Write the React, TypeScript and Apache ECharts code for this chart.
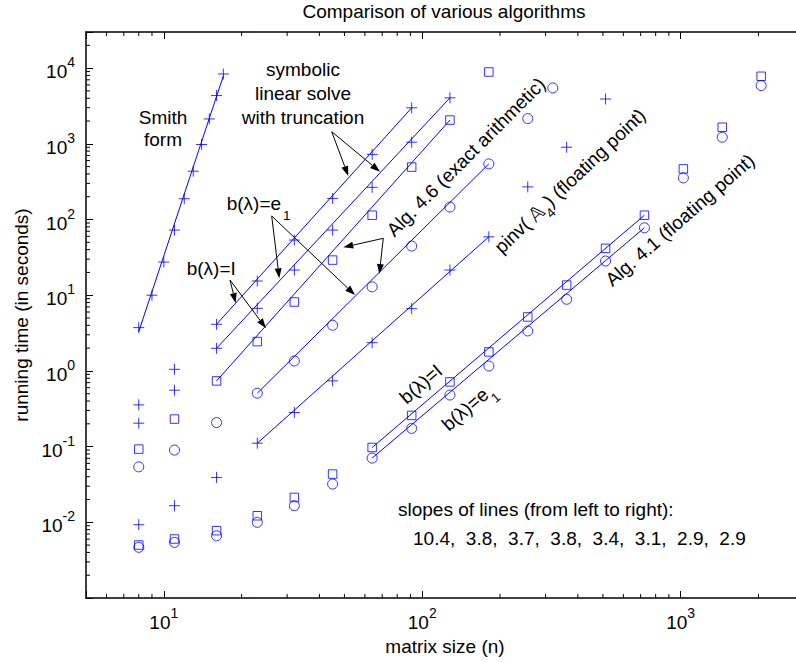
import React, { useEffect, useRef } from 'react';
import * as echarts from 'echarts';

// ---------------- data ----------------
const sizes = [8, 11, 16, 23, 32, 45, 64, 91, 128, 181, 256, 362, 512, 724, 1024, 1448, 2048];

const smithSizes = [8, 9, 10, 11, 12, 13, 14, 15, 16, 17];
const smithTime = [3.73, 10.0, 27.4, 72.5, 188, 435, 979, 2130, 4340, 8360];

// symbolic linear solve with truncation (sizes 8..91 and 8..128)
const symbolicITime = [0.356, 1.05, 4.13, 15.4, 53.5, 190, 725, 2990];
const symbolicE1Time = [0.204, 0.556, 1.99, 6.71, 21.5, 72.5, 266, 1050, 4050];

// Alg. 4.6 (exact arithmetic)
const alg46ITime = [0.0927, 0.231, 0.738, 2.44, 8.13, 29.1, 114, 493, 2060, 8890];
const alg46E1Sizes = [8, 11, 16, 23, 32, 45, 64, 91, 128, 181, 256, 320];
const alg46E1Time = [0.054, 0.0899, 0.208, 0.508, 1.355, 4.01, 12.9, 44.6, 146, 543, 2157, 5470];

// pinv(A4) (floating point)
const pinvTime = [0.0093, 0.01656, 0.0391, 0.111, 0.282, 0.738, 2.36, 6.64, 21.5, 59.1, 270, 902, 3910];

// Alg. 4.1 (floating point)
const alg41ITime = [0.00501, 0.00602, 0.00775, 0.0122, 0.0213, 0.0434, 0.0973, 0.258, 0.716, 1.78, 5.16, 13.6, 41.6, 114, 466, 1656, 7800];
const alg41E1Time = [0.00467, 0.00543, 0.00665, 0.00998, 0.0166, 0.032, 0.0705, 0.174, 0.48, 1.16, 3.37, 8.83, 28.3, 77.8, 355, 1222, 5880];

// fitted lines: [start size, end size] and [start time, end time]
const fitLineSizes = [[8, 17], [16, 91], [16, 128], [16, 128], [23, 181], [23, 181], [64, 724], [64, 724]];
const fitLineTimes = [[3.3, 7900], [4.13, 2990], [1.99, 4050], [0.738, 2060], [0.508, 543], [0.111, 59.1], [0.0973, 114], [0.0705, 77.8]];

const slopes = [10.4, 3.8, 3.7, 3.8, 3.4, 3.1, 2.9, 2.9];

// axes
const xMin = 5, xMax = 3000, yMin = 0.001, yMax = 30000;
const xTickExps = [1, 2, 3];
const yTickExps = [-2, -1, 0, 1, 2, 3, 4];
const xMinorTicks = [6, 7, 8, 9, 20, 30, 40, 50, 60, 70, 80, 90, 200, 300, 400, 500, 600, 700, 800, 900, 2000];
const yMinorTicks = [
  0.002, 0.003, 0.004, 0.005, 0.006, 0.007, 0.008, 0.009,
  0.02, 0.03, 0.04, 0.05, 0.06, 0.07, 0.08, 0.09,
  0.2, 0.3, 0.4, 0.5, 0.6, 0.7, 0.8, 0.9,
  2, 3, 4, 5, 6, 7, 8, 9,
  20, 30, 40, 50, 60, 70, 80, 90,
  200, 300, 400, 500, 600, 700, 800, 900,
  2000, 3000, 4000, 5000, 6000, 7000, 8000, 9000,
  20000,
];

// ---------------- styling ----------------
const FONT = "'Liberation Sans', Arial, Helvetica, sans-serif";
const FS = 19;
const blue = '#0000ff';
const plusPath = 'path://M0,5L10,5M5,0L5,10';

function markerSeries(xs: number[], ys: number[], kind: string) {
  const symbol = kind === 'plus' ? plusPath : kind === 'square' ? 'rect' : 'circle';
  const size = kind === 'plus' ? 11 : kind === 'square' ? 8.5 : 10;
  return {
    type: 'scatter',
    data: ys.map((y, i) => [xs[i], y]),
    symbol,
    symbolSize: size,
    itemStyle: { color: 'rgba(0,0,0,0)', borderColor: blue, borderWidth: 1 },
    emphasis: { disabled: true },
    silent: true,
    z: 4,
  };
}

function labelFormatter(exps: number[]) {
  return (v: number) => {
    const e = Math.log10(v);
    const r = Math.round(e);
    if (Math.abs(e - r) > 1e-6 || exps.indexOf(r) < 0) return '';
    return `{b|10}{s|${r}}`;
  };
}
const labelRich = {
  b: { fontSize: FS, fontFamily: FONT, color: '#000', lineHeight: 26, verticalAlign: 'bottom' },
  s: { fontSize: 14, fontFamily: FONT, color: '#000', lineHeight: 14, verticalAlign: 'top' },
};

function arrow(x1: number, y1: number, x2: number, y2: number) {
  const dx = x2 - x1, dy = y2 - y1;
  const L = Math.hypot(dx, dy);
  const ux = dx / L, uy = dy / L;
  const hl = 10, hw = 3.5;
  const bx = x2 - ux * hl, by = y2 - uy * hl;
  return [
    { type: 'line', silent: true, shape: { x1, y1, x2: bx, y2: by }, style: { stroke: '#000', lineWidth: 1 } },
    {
      type: 'polygon', silent: true,
      shape: { points: [[x2, y2], [bx - uy * hw, by + ux * hw], [bx + uy * hw, by - ux * hw]] },
      style: { fill: '#000' },
    },
  ];
}

function txt(text: string, x: number, y: number, opts: any = {}) {
  return {
    type: 'text', silent: true, x, y,
    rotation: opts.rotation || 0,
    style: {
      text, fontSize: opts.fontSize || FS, fontFamily: FONT, fill: '#000',
      align: opts.align || 'center', verticalAlign: 'middle',
      rich: opts.rich,
    },
  };
}

function subRich(d: number) {
  return {
    a: { fontSize: FS, fontFamily: FONT, fill: '#000', color: '#000', lineHeight: 22 + 2 * d, verticalAlign: 'middle' },
    s: { fontSize: 13.5, fontFamily: FONT, fill: '#000', color: '#000', lineHeight: 22, verticalAlign: 'bottom' },
  };
}

const deg = Math.PI / 180;

export default function App() {
  const ref = useRef<HTMLDivElement>(null);
  useEffect(() => {
    if (!ref.current) return;
    const chart = echarts.init(ref.current, undefined, { renderer: 'svg' });

    const fitSeries = fitLineSizes.map((xs, i) => ({
      type: 'line',
      data: xs.map((x, j) => [x, fitLineTimes[i][j]]),
      symbol: 'none',
      lineStyle: { color: blue, width: 1 },
      silent: true,
      z: 3,
    }));

    const minorX = {
      type: 'custom',
      silent: true,
      data: xMinorTicks.map((v) => [v, 1]),
      renderItem: (params: any, api: any) => {
        const v = api.value(0);
        const pb = api.coord([v, yMin]);
        const pt = api.coord([v, yMax]);
        return {
          type: 'group',
          children: [
            { type: 'line', shape: { x1: pb[0], y1: pb[1], x2: pb[0], y2: pb[1] - 4 }, style: { stroke: '#000', lineWidth: 1 } },
            { type: 'line', shape: { x1: pt[0], y1: pt[1], x2: pt[0], y2: pt[1] + 4 }, style: { stroke: '#000', lineWidth: 1 } },
          ],
        };
      },
      z: 5,
    };
    const minorY = {
      type: 'custom',
      silent: true,
      data: yMinorTicks.map((v) => [10, v]),
      renderItem: (params: any, api: any) => {
        const v = api.value(1);
        const pl = api.coord([xMin, v]);
        return { type: 'line', shape: { x1: pl[0], y1: pl[1], x2: pl[0] + 4, y2: pl[1] }, style: { stroke: '#000', lineWidth: 1 } };
      },
      z: 5,
    };

    const axisLine = { show: true, onZero: false, lineStyle: { color: '#000', width: 1.5 } };
    const axisTick = { show: true, inside: true, length: 7, lineStyle: { color: '#000', width: 1 } };

    const sizesN = (n: number) => sizes.slice(0, n);

    const graphics: any[] = [
      txt('Comparison of various algorithms', 444, 11),
      txt('Smith', 163, 117),
      txt('form', 163, 139),
      txt('symbolic', 303, 69),
      txt('linear solve', 303, 93),
      txt('with truncation', 303, 117),
      txt('b(λ)=e', 226.7, 203, { align: 'left' }),
      txt('1', 283, 215, { align: 'left', fontSize: 13.5 }),
      txt('b(λ)=I', 186.7, 268, { align: 'left' }),
      txt('Alg. 4.6 (exact arithmetic)', 466, 157, { rotation: 45 * deg }),
      txt('{a|pinv( 𝔸}{s|4}{a|) (floating point)}', 570, 181, { rotation: 43.5 * deg, rich: subRich(6) }),
      txt('Alg. 4.1 (floating point)', 680, 220, { rotation: 41 * deg }),
      txt('b(λ)=I', 421, 384, { rotation: 40.6 * deg }),
      txt('{a|b(λ)=e}{s|1}', 468, 407, { rotation: 40.6 * deg, rich: subRich(7) }),
      txt('slopes of lines (from left to right):', 398, 509, { align: 'left' }),
      txt(slopes.map((s) => s.toFixed(1)).join(',  '), 413, 538, { align: 'left' }),
      ...arrow(331.7, 131.7, 348.3, 176),
      ...arrow(331.7, 131.7, 380, 171.7),
      ...arrow(271.7, 216, 279.3, 278.3),
      ...arrow(271.7, 216, 355, 295),
      ...arrow(230, 280, 235.7, 303),
      ...arrow(230, 280, 266, 328.3),
      ...arrow(383.3, 238.3, 343.3, 247.3),
      ...arrow(383.3, 238.3, 379.3, 274),
    ];

    chart.setOption({
      animation: false,
      backgroundColor: '#fff',
      textStyle: { fontFamily: FONT },
      grid: { left: 86, top: 32, width: 718, height: 566, containLabel: false },
      xAxis: [
        {
          type: 'log', logBase: 10, min: xMin, max: xMax, position: 'bottom',
          axisLine, axisTick,
          splitLine: { show: false }, minorTick: { show: false }, minorSplitLine: { show: false },
          axisLabel: { margin: 8, formatter: labelFormatter(xTickExps), rich: labelRich, color: '#000' },
          name: 'matrix size (n)', nameLocation: 'middle', nameGap: 37,
          nameTextStyle: { fontSize: FS, fontFamily: FONT, color: '#000' },
        },
        {
          type: 'log', logBase: 10, min: xMin, max: xMax, position: 'top',
          axisLine, axisTick,
          splitLine: { show: false },
          axisLabel: { show: false },
        },
      ],
      yAxis: [
        {
          type: 'log', logBase: 10, min: yMin, max: yMax, position: 'left',
          axisLine, axisTick,
          splitLine: { show: false }, minorTick: { show: false }, minorSplitLine: { show: false },
          axisLabel: { margin: 11, formatter: labelFormatter(yTickExps), rich: labelRich, color: '#000' },
          name: 'running time (in seconds)', nameLocation: 'middle', nameGap: 55,
          nameTextStyle: { fontSize: FS, fontFamily: FONT, color: '#000' },
        },
      ],
      series: [
        ...fitSeries,
        markerSeries(smithSizes, smithTime, 'plus'),
        markerSeries(sizesN(symbolicITime.length), symbolicITime, 'plus'),
        markerSeries(sizesN(symbolicE1Time.length), symbolicE1Time, 'plus'),
        markerSeries(sizesN(alg46ITime.length), alg46ITime, 'square'),
        markerSeries(alg46E1Sizes, alg46E1Time, 'circle'),
        markerSeries(sizesN(pinvTime.length), pinvTime, 'plus'),
        markerSeries(sizes, alg41ITime, 'square'),
        markerSeries(sizes, alg41E1Time, 'circle'),
        minorX,
        minorY,
      ],
      graphic: { elements: graphics },
    });
    return () => chart.dispose();
  }, []);

  return (
    <div style={{ position: 'fixed', left: 0, top: 0, width: 796, height: 662, overflow: 'hidden', background: '#fff' }}>
      <div ref={ref} style={{ width: 812, height: 662 }} />
    </div>
  );
}
